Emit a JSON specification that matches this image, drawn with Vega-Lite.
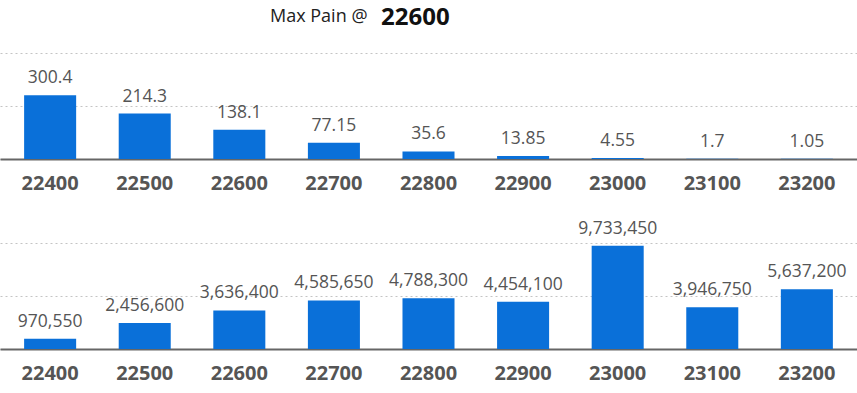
{
  "$schema": "https://vega.github.io/schema/vega-lite/v6.json",
  "padding": {"left": 0, "right": 0, "top": 6, "bottom": 40},
  "background": "white",
  "title": {
    "text": "Max Pain @",
    "anchor": "start",
    "dx": 270,
    "dy": 20,
    "font": "Open Sans",
    "fontSize": 18,
    "fontWeight": "normal",
    "color": "#222222",
    "offset": 0
  },
  "data": {
    "values": [
      {"strike": "22400", "price": 300.4, "pain": 970550},
      {"strike": "22500", "price": 214.3, "pain": 2456600},
      {"strike": "22600", "price": 138.1, "pain": 3636400},
      {"strike": "22700", "price": 77.15, "pain": 4585650},
      {"strike": "22800", "price": 35.6, "pain": 4788300},
      {"strike": "22900", "price": 13.85, "pain": 4454100},
      {"strike": "23000", "price": 4.55, "pain": 9733450},
      {"strike": "23100", "price": 1.7, "pain": 3946750},
      {"strike": "23200", "price": 1.05, "pain": 5637200}
    ]
  },
  "bounds": "flush",
  "spacing": 84,
  "config": {
    "view": {"stroke": null},
    "font": "Open Sans",
    "axisX": {
      "title": null,
      "labelAngle": 0,
      "labelFont": "Open Sans",
      "labelFontSize": 20,
      "labelFontWeight": "bold",
      "labelColor": "#555555",
      "labelPadding": 14,
      "ticks": false,
      "domainColor": "#666666",
      "domainWidth": 2,
      "grid": false
    },
    "axisY": {
      "title": null,
      "labels": false,
      "ticks": false,
      "domain": false,
      "grid": true,
      "gridColor": "#c4c4c4",
      "gridDash": [2, 3],
      "gridWidth": 1
    },
    "scale": {"bandPaddingInner": 0.45, "bandPaddingOuter": 0.255}
  },
  "vconcat": [
    {
      "width": 857,
      "height": 106,
      "title": {
        "text": "22600",
        "anchor": "start",
        "dx": 381,
        "font": "Open Sans",
        "fontSize": 24,
        "fontWeight": "bold",
        "color": "#111111",
        "offset": 23
      },
      "encoding": {
        "x": {"field": "strike", "type": "nominal", "sort": null},
        "y": {"field": "price", "type": "quantitative", "scale": {"domain": [0, 500], "nice": false}, "axis": {"values": [0, 250, 500]}}
      },
      "layer": [
        {"mark": {"type": "bar", "color": "#0a70d9"}},
        {"mark": {"type": "text", "baseline": "bottom", "dy": -8, "fontSize": 17.5, "color": "#555555", "font": "Open Sans"},
         "encoding": {"text": {"field": "price", "type": "nominal"}}}
      ]
    },
    {
      "width": 857,
      "height": 106,
      "encoding": {
        "x": {"field": "strike", "type": "nominal", "sort": null},
        "y": {"field": "pain", "type": "quantitative", "scale": {"domain": [0, 10000000], "nice": false}, "axis": {"values": [0, 5000000, 10000000]}}
      },
      "layer": [
        {"mark": {"type": "bar", "color": "#0a70d9"}},
        {"mark": {"type": "text", "baseline": "bottom", "dy": -8, "fontSize": 17.5, "color": "#555555", "font": "Open Sans"},
         "encoding": {"text": {"field": "pain", "type": "quantitative", "format": ","}}}
      ]
    }
  ]
}
